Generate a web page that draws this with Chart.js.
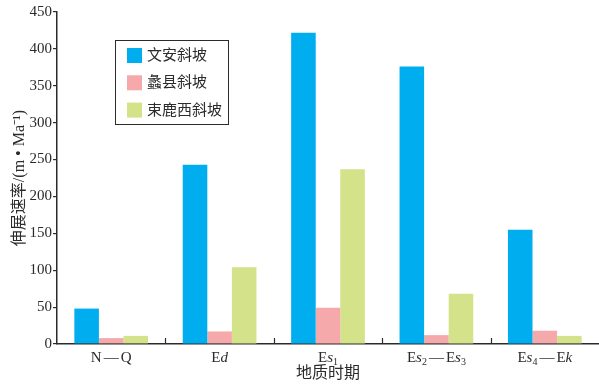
<!DOCTYPE html>
<html>
<head>
<meta charset="utf-8">
<script src="https://cdn.jsdelivr.net/npm/chart.js@4.4.0/dist/chart.umd.min.js"></script>
<style>
  html, body { margin: 0; padding: 0; background: #fff; }
  #wrap { width: 599px; height: 387px; position: relative; }
</style>
</head>
<body>
<div id="wrap"><canvas id="extChart"></canvas></div>
<script>
// data
const categories = ['N—Q', 'Ed', 'Es₁', 'Es₂—Es₃', 'Es₄—Ek'];
const seriesNames = ['文安斜坡', '蠡县斜坡', '束鹿西斜坡'];
const wenan  = [48, 243, 422, 376, 155];
const lixian = [8, 17, 49, 12, 18];
const shulu  = [11, 104, 237, 68, 11];
const yMax = 450, yStep = 50;

const colors = ['#00aeef', '#f6a9aa', '#d4e28a'];
const SERIF = "'Liberation Serif', 'Noto Sans CJK SC', serif";
const INK = '#2b2b2b';

// x labels: lowercase letters italic, subscript digits small and lowered
function drawRich(ctx, text, cx, cy) {
    const subs = '₀₁₂₃₄₅₆₇₈₉';
    const parts = [...text].map(ch => {
        const si = subs.indexOf(ch);
        if (si >= 0) return { t: String(si), font: '10px ' + SERIF, dy: 4, gap: 0 };
        if (/[a-z]/.test(ch)) return { t: ch, font: 'italic 15px ' + SERIF, dy: 0, gap: 0 };
        if (ch === '—') return { t: ch, font: '15px ' + SERIF, dy: 0, gap: 2 };
        return { t: ch, font: '15px ' + SERIF, dy: 0, gap: 0 };
    });
    let w = 0;
    parts.forEach(p => { ctx.font = p.font; p.w = ctx.measureText(p.t).width; w += p.w + 2 * p.gap; });
    let x = cx - w / 2;
    ctx.fillStyle = INK;
    ctx.textBaseline = 'middle';
    ctx.textAlign = 'left';
    parts.forEach(p => {
        ctx.font = p.font;
        x += p.gap;
        ctx.fillText(p.t, x, cy + p.dy);
        x += p.w + p.gap;
    });
}

const decorPlugin = {
    id: 'decor',
    afterDraw(chart) {
        const ctx = chart.ctx, xs = chart.scales.x, area = chart.chartArea;
        ctx.save();
        // small ticks between the groups, pointing up
        ctx.strokeStyle = INK; ctx.lineWidth = 1.2;
        for (let i = 1; i < categories.length; i++) {
            const px = Math.round((xs.getPixelForValue(i - 1) + xs.getPixelForValue(i)) / 2) + 0.5;
            ctx.beginPath(); ctx.moveTo(px, area.bottom); ctx.lineTo(px, area.bottom - 6); ctx.stroke();
        }
        categories.forEach((lab, i) => drawRich(ctx, lab, xs.getPixelForValue(i), area.bottom + 14));

        // boxed legend inside the plot
        ctx.fillStyle = '#fff';
        ctx.fillRect(115, 40, 114, 85);
        ctx.strokeStyle = INK; ctx.lineWidth = 1;
        ctx.strokeRect(115.5, 40.5, 113, 84);
        chart.data.datasets.forEach((ds, i) => {
            const y = 48 + i * 27.3;
            ctx.fillStyle = ds.backgroundColor;
            ctx.fillRect(127, y, 15, 15);
            ctx.fillStyle = INK;
            ctx.font = '15px ' + SERIF;
            ctx.textBaseline = 'middle';
            ctx.textAlign = 'left';
            ctx.fillText(ds.label, 147, y + 8);
        });
        ctx.restore();
    }
};

new Chart(document.getElementById('extChart'), {
    type: 'bar',
    data: {
        labels: categories,
        datasets: [wenan, lixian, shulu].map((d, i) => ({
            label: seriesNames[i], data: d, backgroundColor: colors[i], borderWidth: 0,
            barPercentage: 1.0, categoryPercentage: 0.68
        }))
    },
    options: {
        responsive: true, maintainAspectRatio: false, animation: false,
        layout: { padding: { top: 12, right: 0, bottom: 0, left: 0 } },
        plugins: { legend: { display: false }, tooltip: { enabled: false } },
        scales: {
            x: {
                grid: { display: false },
                border: { display: true, color: INK, width: 1.5 },
                ticks: { display: false },
                title: { display: true, text: '地质时期', color: INK, font: { family: SERIF, size: 16 }, padding: { top: 0, bottom: 4 } },
                afterFit(s) { s.height = 43; }
            },
            y: {
                min: 0, max: yMax,
                grid: { drawOnChartArea: false, drawTicks: true, tickLength: 4, color: INK, lineWidth: 1.2 },
                border: { display: true, color: INK, width: 1.5 },
                ticks: { stepSize: yStep, color: INK, padding: 1, font: { family: SERIF, size: 15 } },
                title: { display: true, text: '伸展速率/(m • Ma⁻¹)', color: INK, font: { family: SERIF, size: 16 }, padding: { top: 10, bottom: 0 } },
                afterFit(s) { s.width = 57; }
            }
        }
    },
    plugins: [decorPlugin]
});
</script>
</body>
</html>
